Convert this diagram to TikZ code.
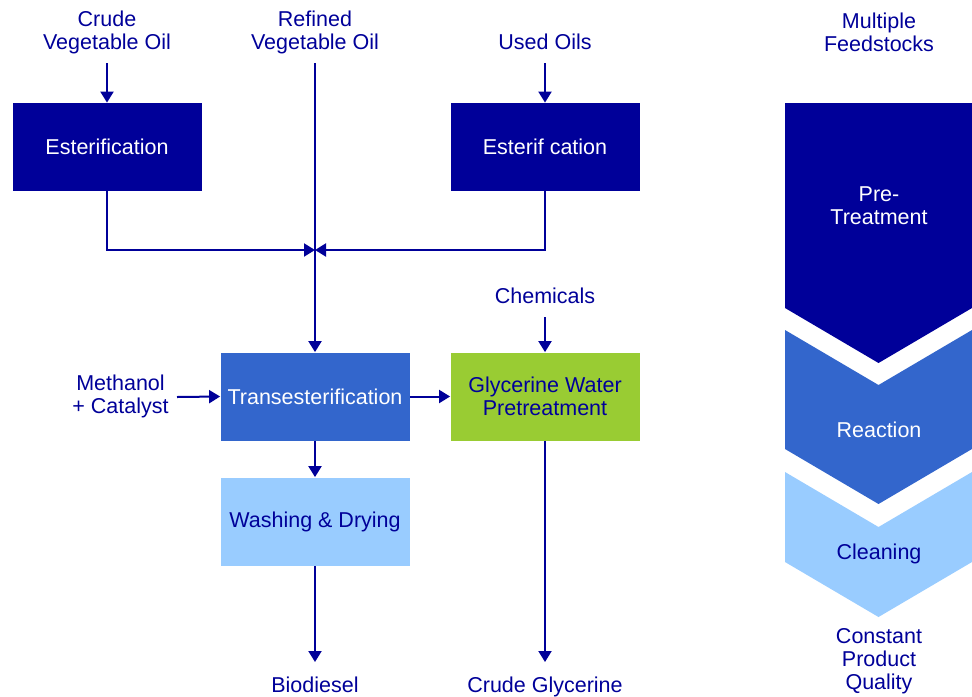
\documentclass[tikz,border=0pt]{standalone}
\usepackage{fontspec}
\setmainfont{Liberation Sans}
\usetikzlibrary{arrows.meta}
\definecolor{navycolor}{RGB}{0,0,153}
\definecolor{midbluecolor}{RGB}{51,102,204}
\definecolor{lightbluecolor}{RGB}{153,204,255}
\definecolor{limecolor}{RGB}{153,204,51}

\begin{document}
\begin{tikzpicture}[x=0.5pt, y=-0.5pt,
  every node/.style={font=\fontsize{10.75}{11.5}\selectfont, align=center},
  box/.style={minimum width=94.5pt, minimum height=44pt, inner sep=0pt},
  tag/.style={text=navycolor, inner sep=4pt, text depth=2.5pt},
  flow/.style={draw=navycolor, line width=1pt, -{Triangle[length=5.5pt,width=6.5pt]}}]
  \useasboundingbox (0,0) rectangle (972,696);

  % process boxes
  \node[box, fill=navycolor, text=white] (esterA) at (107,147) {Esterification};
  \node[box, fill=navycolor, text=white] (esterB) at (545,147) {Esterif cation};
  \node[box, fill=midbluecolor, text=white] (trans) at (315,396.5) {Transesterification};
  \node[box, fill=limecolor, text=navycolor] (glyc) at (545,396.5) {Glycerine Water\\Pretreatment};
  \node[box, fill=lightbluecolor, text=navycolor] (wash) at (315,521.5) {Washing \& Drying};

  % inputs and outputs
  \node[tag, anchor=south] (crude) at (107,63) {Crude\\Vegetable Oil};
  \node[tag, anchor=south] (refined) at (315,63) {Refined\\Vegetable Oil};
  \node[tag, anchor=south] (used) at (545,63) {Used Oils};
  \node[tag, anchor=south] (chem) at (545,317) {Chemicals};
  \node[tag, anchor=east] (methanol) at (177,397) {Methanol\\+ Catalyst};
  \node[tag, anchor=north, outer sep=3.5pt] (biodiesel) at (315,662) {Biodiesel};
  \node[tag, anchor=north, outer sep=3.5pt] (crudeglyc) at (545,662) {Crude Glycerine};
  \coordinate (merge) at (315,250);

  \draw[flow] (crude.south) -- (esterA.north);
  \draw[flow] (used.south) -- (esterB.north);
  \draw[flow] (refined.south) -- (trans.north);
  \draw[flow] (esterA.south) |- (merge);
  \draw[flow] (esterB.south) |- (merge);
  \draw[flow] (methanol.east) -- (trans.west);
  \draw[flow] (trans.east) -- (glyc.west);
  \draw[flow] (chem.south) -- (glyc.north);
  \draw[flow] (trans.south) -- (wash.north);
  \draw[flow] (wash.south) -- (biodiesel.north);
  \draw[flow] (glyc.south) -- (crudeglyc.north);

  % stages on the right
  \fill[navycolor] (785,103) -- (972,103) -- (972,308) -- (878.5,363) -- (785,308) -- cycle;
  \fill[midbluecolor] (785,330) -- (878.5,385) -- (972,330) -- (972,449) -- (878.5,504) -- (785,449) -- cycle;
  \fill[lightbluecolor] (785,472) -- (878.5,527) -- (972,472) -- (972,562) -- (878.5,617) -- (785,562) -- cycle;
  \node[tag] (feed) at (879,35) {Multiple\\Feedstocks};
  \node[text=white] (pretreat) at (879,206) {Pre-\\Treatment};
  \node[text=white] (reaction) at (879,430) {Reaction};
  \node[text=navycolor] (cleaning) at (879,554) {Cleaning};
  \node[tag] (quality) at (879,661) {Constant\\Product\\Quality};
\end{tikzpicture}
\end{document}
